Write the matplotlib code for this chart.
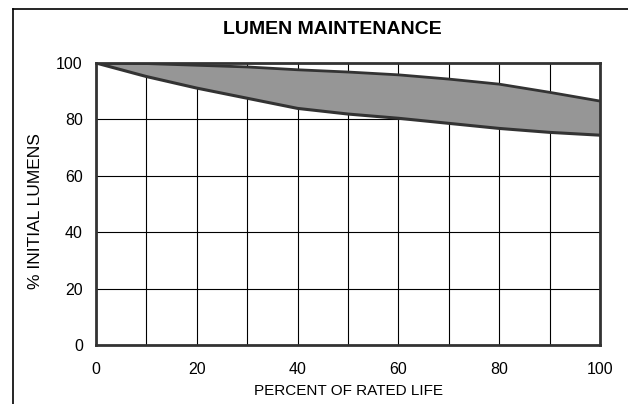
import matplotlib
matplotlib.use("Agg")
import matplotlib.pyplot as plt
from matplotlib.lines import Line2D

plt.rcParams['font.family'] = ['Liberation Sans', 'DejaVu Sans']

# Lumen maintenance band (percent of rated life vs % initial lumens)
life = [0, 10, 20, 30, 40, 50, 60, 70, 80, 90, 100]
upper = [100, 99.8, 99.2, 98.6, 97.6, 96.8, 95.8, 94.3, 92.5, 89.6, 86.5]
lower = [100, 95.2, 91.1, 87.5, 83.9, 81.9, 80.4, 78.6, 76.8, 75.4, 74.4]

xticks = [0, 20, 40, 60, 80, 100]
yticks = [0, 20, 40, 60, 80, 100]

fig = plt.figure(figsize=(6.28, 4.04), dpi=100)
ax = fig.add_axes([96 / 628, 1 - 345 / 404, 504 / 628, 282 / 404])

ax.fill_between(life, lower, upper, color="#969696", linewidth=0, zorder=2)
ax.plot(life, upper, color="#333333", lw=2, zorder=3)
ax.plot(life, lower, color="#333333", lw=2.2, zorder=3)

ax.set_xlim(0, 100)
ax.set_ylim(0, 100)
ax.set_xticks(xticks)
ax.set_xticks(range(10, 100, 20), minor=True)
ax.set_yticks(yticks)
ax.grid(True, which="both", color="black", lw=0.8, zorder=1)
ax.tick_params(which="both", length=0, labelsize=11.5)
ax.tick_params(axis="x", pad=12)
ax.tick_params(axis="y", pad=9.5)
for s in ax.spines.values():
    s.set_linewidth(2)
    s.set_color("#333333")
    s.set_zorder(4)

fig.text(348 / 628, 1 - 391 / 404, "PERCENT OF RATED LIFE", ha="center", va="center",
         fontsize=11)
fig.text(35.5 / 628, 1 - 211 / 404, "% INITIAL LUMENS", ha="center", va="center",
         rotation=90, fontsize=12.5)
fig.text(332 / 628, 1 - 29 / 404, "LUMEN MAINTENANCE", ha="center", va="center",
         fontsize=14, fontweight="bold")

# outer frame (left and top edges)
fig.add_artist(Line2D([13 / 628, 13 / 628], [0, 1 - 9 / 404], color="black", lw=1.2))
fig.add_artist(Line2D([13 / 628, 1], [1 - 9 / 404, 1 - 9 / 404], color="black", lw=1.2))

fig.savefig("out.png", dpi=100)
